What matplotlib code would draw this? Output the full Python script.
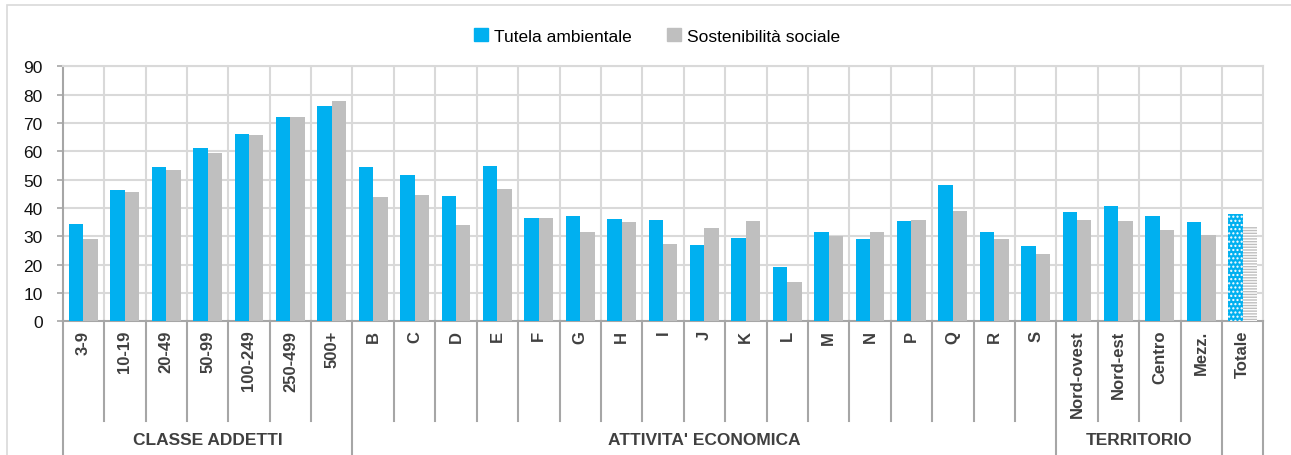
"""
Tutela ambientale vs sostenibilità sociale per classe addetti, attività economica e territorio
"""

import matplotlib
matplotlib.use("Agg")
from matplotlib import pyplot as plt
from matplotlib.patches import Rectangle

categories = ["3-9", "10-19", "20-49", "50-99", "100-249", "250-499", "500+",
              "B", "C", "D", "E", "F", "G", "H", "I", "J", "K", "L", "M", "N",
              "P", "Q", "R", "S",
              "Nord-ovest", "Nord-est", "Centro", "Mezz.", "Totale"]
tutela = [34.4, 46.4, 54.5, 61.1, 66.0, 72.1, 75.9,
          54.5, 51.6, 44.4, 54.7, 36.4, 37.1, 36.1, 35.6, 26.8, 29.5, 19.2,
          31.5, 29.2, 35.5, 48.1, 31.4, 26.6,
          38.6, 40.8, 37.2, 34.9, 37.9]
sociale = [29.1, 45.6, 53.3, 59.4, 65.8, 72.1, 77.8,
           43.8, 44.6, 34.1, 46.6, 36.5, 31.5, 35.1, 27.3, 32.9, 35.4, 13.9,
           30.2, 31.5, 35.9, 38.9, 29.1, 23.6,
           35.6, 35.5, 32.2, 30.6, 33.5]
group_names = ["CLASSE ADDETTI", "ATTIVITA' ECONOMICA", "TERRITORIO"]
group_bounds = [(0, 7), (7, 24), (24, 28)]
yticks = [0, 10, 20, 30, 40, 50, 60, 70, 80, 90]

BLUE = "#00b0f0"
GREY = "#bfbfbf"
GRID = "#d9d9d9"
AXIS = "#a6a6a6"
FONT = ["Liberation Sans Narrow", "Liberation Sans", "DejaVu Sans"]


def main():
    plt.rcParams["font.family"] = FONT
    plt.rcParams["hatch.linewidth"] = 1.0

    fig = plt.figure(figsize=(12.91, 4.56), dpi=100)
    ax = fig.add_axes([62.7 / 1291, 1 - 322.3 / 456, 1200.6 / 1291, 255 / 456])

    # cornice del grafico
    fig.patches.append(Rectangle((7 / 1291, -0.1), 1.2, 1 - 6 / 456 + 0.1,
                                 transform=fig.transFigure, fill=False,
                                 edgecolor=GRID, linewidth=1.2))

    n = len(categories)
    w = 0.35
    xs = list(range(n))
    for i in xs:
        if categories[i] == "Totale":
            ax.bar(i - w / 2, tutela[i], w, color=BLUE, hatch="....",
                   edgecolor="white", linewidth=0, zorder=3)
            ax.bar(i + w / 2, sociale[i], w, color=GREY, hatch="------",
                   edgecolor="white", linewidth=0, zorder=3)
        else:
            ax.bar(i - w / 2, tutela[i], w, color=BLUE, linewidth=0, zorder=3)
            ax.bar(i + w / 2, sociale[i], w, color=GREY, linewidth=0, zorder=3)

    ax.set_xlim(-0.5, n - 0.5)
    ax.set_ylim(0, 90)
    ax.set_yticks(yticks)
    ax.set_yticklabels([str(v) for v in yticks], fontsize=12.5, color="#111111")
    ax.tick_params(axis="y", length=4.5, width=1.2, color=AXIS, pad=10)

    ax.set_xticks(xs)
    ax.set_xticklabels(categories, rotation=90, fontsize=12, fontweight="bold",
                       color="#404040", va="top")
    ax.tick_params(axis="x", length=0, pad=6)

    # griglia
    for v in yticks[1:]:
        ax.axhline(v, color=GRID, linewidth=1.5, zorder=1)
    for b in range(1, n):
        ax.axvline(b - 0.5, color=GRID, linewidth=1.5, zorder=1)

    for side in ["top", "right"]:
        ax.spines[side].set_color(GRID)
        ax.spines[side].set_linewidth(1.5)
    for side in ["left", "bottom"]:
        ax.spines[side].set_color(AXIS)
        ax.spines[side].set_linewidth(1.5)

    # separatori sotto l'asse
    trans = ax.get_xaxis_transform()
    full = {0, 7, 24, 28, 29}
    for b in range(n + 1):
        bottom = -0.54 if b in full else -0.39
        ax.plot([b - 0.5, b - 0.5], [0, bottom], color=AXIS, linewidth=1.5,
                transform=trans, clip_on=False)
    for name, (a, b) in zip(group_names, group_bounds):
        ax.text((a + b) / 2 - 0.5, -0.465, name, transform=trans, ha="center",
                va="center", fontsize=12.5, fontweight="bold", color="#404040")

    # legenda
    handles = [Rectangle((0, 0), 1, 1, color=BLUE), Rectangle((0, 0), 1, 1, color=GREY)]
    fig.legend(handles, ["Tutela ambientale", "Sostenibilità sociale"],
               loc="center", bbox_to_anchor=(657 / 1291, 1 - 37 / 456), ncol=2,
               frameon=False, fontsize=12.5, handlelength=0.8, handleheight=0.8,
               handletextpad=0.35, columnspacing=2.0)

    fig.savefig("out.png", dpi=100)


if __name__ == "__main__":
    main()
